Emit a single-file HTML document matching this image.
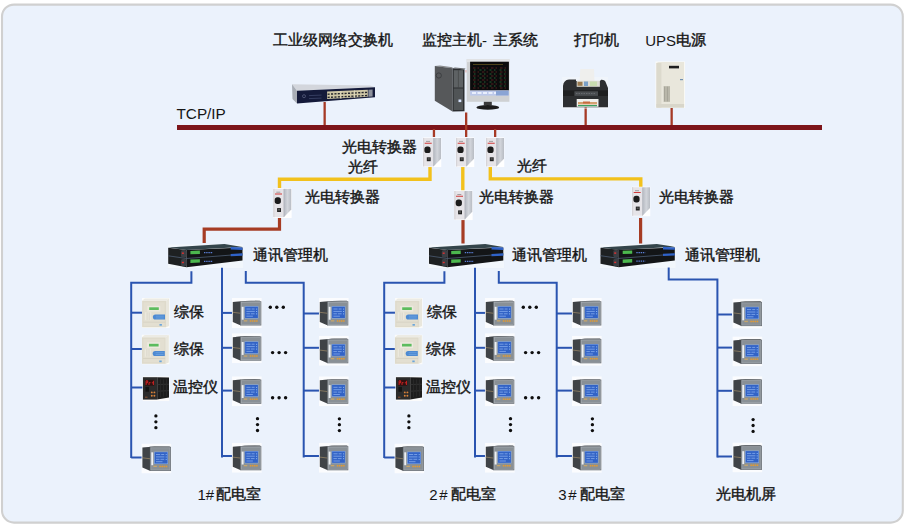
<!DOCTYPE html>
<html><head><meta charset="utf-8"><title>diagram</title>
<style>
html,body{margin:0;padding:0;background:#ffffff;width:905px;height:527px;overflow:hidden}
#wrap{position:relative;width:905px;height:527px}
svg{position:absolute;left:0;top:0}
.t{position:absolute;font-family:"Liberation Sans",sans-serif;font-size:15px;line-height:15px;color:#161616;white-space:nowrap}
.c{font-size:16px;line-height:16px;transform:scaleX(1.25);transform-origin:0 0;-webkit-text-stroke:1.25px #161616}
.cj .c{font-size:15px;line-height:15px;transform:translate(1px,0.4px);-webkit-text-stroke:0.4px #161616;font-weight:normal}
#probe{position:absolute;left:-9999px;top:0;font-family:"Liberation Sans",sans-serif;font-size:100px;line-height:100px;white-space:nowrap}
</style></head><body><div id="wrap">
<svg width="905" height="527" viewBox="0 0 905 527">

<defs>
 <linearGradient id="gSide" x1="0" y1="0" x2="1" y2="0">
  <stop offset="0" stop-color="#b4b8c0"/><stop offset="0.5" stop-color="#d2d5db"/><stop offset="1" stop-color="#b8bcc3"/>
 </linearGradient>
 <linearGradient id="gScr" x1="0" y1="0" x2="1" y2="1">
  <stop offset="0" stop-color="#3f74d8"/><stop offset="1" stop-color="#1f48b0"/>
 </linearGradient>
 <symbol id="meter" viewBox="0 0 30 30" width="30" height="30">
  <rect x="0" y="0" width="30" height="30" fill="#fbfcfe"/>
  <polygon points="1,4 13,2.9 28,2.7 29,3.3 9,3.5 9,27.5 1,24" fill="#3f4347"/>
  <polygon points="1,4 13,2.9 28,2.7 9,3.5" fill="#5c6064"/>
  <path d="M1 14.3L9 15.3" stroke="#a08c6a" stroke-width="0.7"/>
  <rect x="8.5" y="3.3" width="21.1" height="24.2" fill="#6c7278"/>
  <rect x="9.2" y="4" width="19.7" height="22.8" fill="#a4aab0"/>
  <rect x="9.8" y="4.6" width="18.5" height="21.6" fill="#899096"/>
  <rect x="9.9" y="8.8" width="1.9" height="12.9" fill="#eef1f4"/>
  <rect x="12.8" y="8.2" width="13.8" height="12.3" fill="#8aaee6"/>
  <rect x="13.3" y="8.7" width="12.8" height="11.3" fill="#3263c6"/>
  <path d="M14.6 11h4.2M19.8 11h3M14.6 13.4h8.4M14.6 15.8h3.5M19 15.8h3.8M14.6 18.2h6.5" stroke="#86acee" stroke-width="0.8"/>
  <path d="M24.8 10.6v1M24.8 13v1M24.8 15.4v1" stroke="#a8d0ff" stroke-width="0.8"/>
  <rect x="12" y="22.2" width="3.5" height="1.3" fill="#c8a66a"/>
  <path d="M18 22.9h8.2" stroke="#e49a30" stroke-width="1.5" stroke-dasharray="1.5 0.6"/>
 </symbol>
 <symbol id="relay" viewBox="0 0 28 30" width="28" height="30">
  <rect x="0" y="0" width="28" height="30" fill="#fcfcfa"/>
  <polygon points="0.3,2.8 3,0.4 27.2,0.4 24.2,2.8" fill="#ecebe4"/>
  <rect x="0.3" y="2.8" width="23.9" height="26.5" fill="#dedacb"/>
  <polygon points="24.2,2.8 27.2,0.4 27.2,28 24.2,29.3" fill="#e9e7dd"/>
  <rect x="1.8" y="4.3" width="21" height="23.5" fill="#e3dfd1"/>
  <rect x="5.5" y="7.8" width="13" height="5.8" fill="#ece9de"/>
  <rect x="7.4" y="9.3" width="9.6" height="2.7" fill="#5cbc5e"/>
  <rect x="3.2" y="14.2" width="6.3" height="8" fill="#ebe8dd"/>
  <path d="M5.3 14.5v7.5M7.4 14.5v7.5" stroke="#cfcbbd" stroke-width="0.6"/>
  <path d="M13.6 16.5h9.6v5.1h-9.6a2.55 2.55 0 0 1 0-5.1z" fill="#4d8ad2"/>
  <path d="M14 18.2h8M14 20h8" stroke="#7fb0e8" stroke-width="0.5"/>
  <rect x="1.5" y="23.8" width="22" height="0.6" fill="#cfcbbd"/>
  <rect x="17.7" y="26" width="2.4" height="1.7" fill="#6aa6dc"/>
 </symbol>
 <symbol id="temp" viewBox="0 0 27 25" width="27" height="25">
  <rect x="0" y="0" width="27" height="25" fill="#fbfbfb"/>
  <rect x="0.4" y="1" width="14.3" height="22.4" fill="#2b2b2b"/>
  <polygon points="14.7,1 26.5,1.2 26.5,21.3 14.7,23.4" fill="#1d1d1d"/>
  <path d="M14.7 8.3L26.5 8M14.7 15L26.5 14.5" stroke="#3c3c3c" stroke-width="0.7"/>
  <path d="M18 3v18M21 3v17.5M24 3v17" stroke="#2a2a2a" stroke-width="0.8"/>
  <rect x="2.6" y="3.7" width="9.1" height="5.8" fill="#2e1010"/>
  <path d="M3.6 8.8V4.6h1.6v2h-1.6M6.5 8.8V6.5h1.5M9.3 6.6h1.6M10.9 4.6v4.2" fill="none" stroke="#f02828" stroke-width="0.8"/>
  <rect x="2.9" y="10.7" width="3.6" height="4.8" fill="#141414"/>
  <circle cx="9.3" cy="16.2" r="0.95" fill="#d9823a"/><circle cx="11.9" cy="16.2" r="0.95" fill="#d9823a"/>
  <circle cx="9.3" cy="19.6" r="0.95" fill="#d9823a"/><circle cx="11.9" cy="19.6" r="0.95" fill="#d9823a"/>
  <rect x="2.5" y="20.5" width="2.5" height="1" fill="#8a5030"/>
 </symbol>
 <symbol id="conv" viewBox="0 0 19 30" width="19" height="30">
  <rect x="0" y="0" width="19" height="30" fill="#ffffff"/>
  <rect x="0.5" y="0.7" width="10.5" height="28.5" fill="#e6e4e8"/>
  <rect x="0.5" y="0.7" width="1.2" height="28.5" fill="#d6d4d8"/>
  <polygon points="11,0.7 18.5,0.7 18.5,21.5 11,29.2" fill="url(#gSide)"/>
  <path d="M11 1v28" stroke="#a8acb4" stroke-width="0.5"/>
  <path d="M3.5 4.2h4" stroke="#707070" stroke-width="0.6"/>
  <path d="M2.2 6h7" stroke="#d03a3a" stroke-width="1.1"/>
  <rect x="1.9" y="9.3" width="6.2" height="6.6" rx="2.6" fill="#1c1c1c"/>
  <rect x="4.3" y="20.1" width="3.9" height="3.9" fill="#242424"/>
  <rect x="5.2" y="21" width="2" height="1.5" fill="#5a5a5a"/>
 </symbol>
 <symbol id="cm" viewBox="0 0 76 25" width="76" height="25">
  <rect x="0" y="1" width="76" height="24" fill="#fafbfc" opacity="0.5"/>
  <polygon points="0.7,4.3 57,0.8 75,3.6 19,6.8" fill="#34454b"/>
  <polygon points="0.7,4.5 19,6.6 19,24 0.7,20.5" fill="#1e2122"/>
  <polygon points="19,6.6 75,4.3 75,17.3 19,24" fill="#131517"/>
  <path d="M0.7 12.5L19 15.2L75 10.9" fill="none" stroke="#4d5d74" stroke-width="0.8"/>
  <rect x="13.5" y="6.8" width="5.5" height="7.4" rx="1.8" fill="#3a3e44"/>
  <rect x="13.5" y="15.6" width="5.5" height="7.4" rx="1.8" fill="#3a3e44"/>
  <rect x="14.4" y="9.2" width="2" height="1.4" fill="#e03030"/>
  <rect x="14.4" y="18.5" width="2" height="1.4" fill="#e03030"/>
  <polygon points="22.9,7.6 32.4,7.3 32.4,10.6 22.9,10.9" fill="#4cb84e"/>
  <polygon points="22.9,16.3 32.4,15.9 32.4,19.3 22.9,19.7" fill="#4cb84e"/>
  <path d="M36.5 9.4h9M36.5 18h9" stroke="#5a7ed6" stroke-width="1.3" stroke-dasharray="1.4 0.8"/>
  <polygon points="63.2,3.6 75,4.3 75,6.6 63.2,6.2" fill="#2f62c8"/>
  <polygon points="63.2,10.6 75,10 75,12.4 63.2,12.9" fill="#2f62c8"/>
 </symbol>
</defs>
<rect x="2" y="4.6" width="900.8" height="518" rx="12" ry="12" fill="#ebf2fc" stroke="#d0d0d0" stroke-width="2.1"/>
<rect x="177" y="125" width="645" height="5" fill="#7d151a"/>
<rect x="323.5" y="102" width="2.3" height="23" fill="#a63a26"/>
<rect x="465" y="112.5" width="2.3" height="24.5" fill="#a63a26"/>
<rect x="584.5" y="107" width="2.3" height="18" fill="#a63a26"/>
<rect x="670.5" y="107.5" width="2.3" height="17.5" fill="#a63a26"/>
<rect x="432.8" y="129" width="2.3" height="8" fill="#a63a26"/>
<rect x="494" y="129" width="2.3" height="8" fill="#a63a26"/>
<path d="M430 167V179.2H279.5V188" fill="none" stroke="#f2c11c" stroke-width="3.4"/>
<path d="M462.8 167V190.5" fill="none" stroke="#f2c11c" stroke-width="3.4"/>
<path d="M490.3 167V178.9H640.8V187" fill="none" stroke="#f2c11c" stroke-width="3.4"/>
<path d="M279.5 217V229.2H204.2V243" fill="none" stroke="#a63c24" stroke-width="3.2"/>
<path d="M463 219.5V243.5" fill="none" stroke="#a63c24" stroke-width="3.2"/>
<path d="M640.6 218V243.5" fill="none" stroke="#a63c24" stroke-width="3.2"/>
<g>
 <polygon points="292,84.3 370,85.6 375,87.2 297,90.7" fill="#d3d6dc"/>
 <polygon points="292,84.3 297,90.7 297,103.4 292.5,99" fill="#a9aeb6"/>
 <polygon points="297,90.7 375,87.2 375,97.3 297,103.4" fill="#141a3a"/>
 <polygon points="327.1,91.5 367.8,89.8 367.8,96.8 327.1,99" fill="#cfc7a6"/>
 <path d="M327.6 94.2L367.3 92.4M327.6 97.4L367.3 95.5" stroke="#25262c" stroke-width="1.4" stroke-dasharray="2.1 1.3"/>
 <path d="M340.9 91v7.8M354.6 90.4v7.4" stroke="#e2dcc2" stroke-width="0.9"/>
 <polygon points="368.4,89.8 372.6,89.6 372.6,96.5 368.4,96.8" fill="#8d919c"/>
 <circle cx="304" cy="96.2" r="1.5" fill="none" stroke="#6a7090" stroke-width="0.6"/>
 <path d="M309 95.6L321.5 95.1M309 98.6L321.5 98.1" stroke="#4a5478" stroke-width="0.6"/>
</g>
<g>
 <polygon points="434.8,66 440,65.5 452.5,67.2 452.5,68.2" fill="#8a8c8e"/>
 <polygon points="434.8,66 452.5,68.2 452.5,111.5 434.8,100.7" fill="#56585a"/>
 <circle cx="438.8" cy="75.5" r="2.6" fill="none" stroke="#3a3c3e" stroke-width="0.9"/>
 <polygon points="452.5,68.2 455,67.6 465.5,68.5 464.5,69.4" fill="#6a6c6e"/>
 <polygon points="452.5,68.2 464.5,69.4 464.5,111.2 452.5,111.5" fill="#2c2e30"/>
 <rect x="453.7" y="70.2" width="9.3" height="17.3" fill="#5e6264"/>
 <rect x="453.7" y="88.5" width="9.3" height="21.5" fill="#505456"/>
 <path d="M458.4 70.2v17.3" stroke="#3c3e40" stroke-width="0.6"/>
 <rect x="458.5" y="99.5" width="2.8" height="2.6" fill="#d8e4ff"/>
 <rect x="465.2" y="70" width="1.6" height="2.5" fill="#e8c0c0"/>
 <rect x="466.7" y="59.1" width="42.7" height="42.7" fill="#cfd1d3"/>
 <rect x="466.7" y="59.1" width="42.7" height="3" fill="#e2e4e6"/>
 <rect x="470.1" y="61.7" width="38.8" height="28.8" fill="#0b0b0c"/>
 <path d="M473 64.5h30" stroke="#6a5a20" stroke-width="0.7"/>
 <path d="M473 68h34M473 72h34M473 76h34M473 80h34M473 84h34M473 88h34" stroke="#5a2424" stroke-width="0.9" stroke-dasharray="2.5 2 1.5 3"/>
 <path d="M474 70h32M474 74h32M474 78h32M474 82h32M474 86h32" stroke="#2a6a3a" stroke-width="0.9" stroke-dasharray="1.5 4 2 2.5"/>
 <rect x="470.1" y="90.5" width="38.8" height="5.1" fill="#bcc8ea"/>
 <path d="M472 93h24" stroke="#e8eefc" stroke-width="2.2" stroke-dasharray="4 1.5"/>
 <rect x="496" y="90.8" width="12.6" height="4.6" fill="#8aa4d4"/>
 <rect x="483.8" y="101.8" width="8" height="3.6" fill="#3a3a3a"/>
 <ellipse cx="487.8" cy="107.4" rx="11.4" ry="2.4" fill="#1c1c1c"/>
</g>
<g>
 <rect x="562" y="77" width="46" height="32" fill="#f6f8fa" opacity="0.45"/>
 <polygon points="580.3,69 594,69 594.5,81.3 579.5,81.3" fill="#efefed"/>
 <path d="M563 86Q563.5 80 569 79.5L576 79.5L576 81L600 81L601 79.8Q605 79.5 606 83L608 88V107.3H563Z" fill="#2d2f31"/>
 <polygon points="576.7,80.8 599.9,80.8 599.9,86.8 576.7,86.8" fill="#dcdcd4"/>
 <rect x="577.5" y="81.8" width="5" height="4" fill="#9a7a50"/>
 <rect x="584" y="81.5" width="4" height="4.5" fill="#7aa0c8"/>
 <rect x="590" y="81.5" width="7" height="4.5" fill="#c8dcb0"/>
 <rect x="563" y="90.4" width="45" height="5.5" fill="#1e1f20"/>
 <rect x="574.4" y="91.3" width="23.6" height="4.6" fill="#4a4d50"/>
 <path d="M576 93.5h20" stroke="#6e7276" stroke-width="0.8" stroke-dasharray="1.5 1"/>
 <rect x="576.7" y="99" width="21.8" height="7.8" fill="#f0f0ee"/>
 <rect x="578" y="102" width="19" height="2.4" fill="#d4a070"/><rect x="583" y="101.5" width="7" height="2" fill="#c86a40"/>
 <rect x="578" y="105" width="19" height="1.2" fill="#3aa060"/>
</g>
<g>
 <rect x="655.5" y="61.5" width="29.5" height="46.5" fill="#fbfbf7"/>
 <polygon points="656.4,63 658.5,62 684.1,62 684.1,107.6 656.4,107.6" fill="#e9e7dc"/>
 <rect x="656.4" y="63" width="5" height="44.6" fill="#dcdacd"/>
 <rect x="669" y="65.8" width="10" height="2.6" fill="#1e1e1e"/>
 <rect x="663.5" y="86" width="6.5" height="16" fill="#cac8bb"/>
 <path d="M664.5 86.5v15M666 86.5v15M667.5 86.5v15M669 86.5v15" stroke="#9e9c90" stroke-width="0.8"/>
 <rect x="656.4" y="104" width="27.7" height="3.6" fill="#d8d6ca"/>
 <rect x="680" y="79" width="3" height="1.2" fill="#7090b0"/>
</g>
<use href="#conv" x="422.5" y="137.2"/>
<use href="#conv" x="455.5" y="137.2"/>
<use href="#conv" x="485.5" y="137.2"/>
<use href="#conv" x="272.8" y="188"/>
<use href="#conv" x="453.8" y="190.3"/>
<use href="#conv" x="631.5" y="186.5"/>
<use href="#cm" x="167.5" y="243.3"/>
<use href="#cm" x="428.3" y="243.3"/>
<use href="#cm" x="599.8" y="243.2"/>
<g transform="translate(0 0)"><path d="M191.4 271.3V282.8H131.2V458" fill="none" stroke="#2a54b0" stroke-width="2"/>
<path d="M131.2 312.7H142.5" stroke="#2a54b0" stroke-width="2"/>
<path d="M131.2 349H142.5" stroke="#2a54b0" stroke-width="2"/>
<path d="M131.2 387.5H142.5" stroke="#2a54b0" stroke-width="2"/>
<path d="M131.2 457.5H142.5" stroke="#2a54b0" stroke-width="2"/>
<use href="#relay" x="141.8" y="298"/>
<use href="#relay" x="141.6" y="334.5"/>
<use href="#temp" x="142.5" y="376.2"/>
<use href="#meter" x="141.4" y="443.5"/>
<circle cx="155.9" cy="415.90" r="1.65" fill="#0e0e0e"/><circle cx="155.9" cy="421.80" r="1.65" fill="#0e0e0e"/><circle cx="155.9" cy="427.70" r="1.65" fill="#0e0e0e"/>
<path d="M222 267.7V457.5" fill="none" stroke="#2a54b0" stroke-width="2"/>
<path d="M222 312.9H232" stroke="#2a54b0" stroke-width="2"/>
<path d="M222 347.8H232" stroke="#2a54b0" stroke-width="2"/>
<path d="M222 390.6H232" stroke="#2a54b0" stroke-width="2"/>
<path d="M222 456H232" stroke="#2a54b0" stroke-width="2"/>
<use href="#meter" x="231.8" y="298"/>
<use href="#meter" x="231.8" y="333.2"/>
<use href="#meter" x="231.8" y="376.3"/>
<use href="#meter" x="231.8" y="442.8"/>
<circle cx="257.5" cy="418.70" r="1.65" fill="#0e0e0e"/><circle cx="257.5" cy="424.60" r="1.65" fill="#0e0e0e"/><circle cx="257.5" cy="430.50" r="1.65" fill="#0e0e0e"/>
<circle cx="270.30" cy="307.2" r="1.7" fill="#0e0e0e"/><circle cx="276.80" cy="307.2" r="1.7" fill="#0e0e0e"/><circle cx="283.30" cy="307.2" r="1.7" fill="#0e0e0e"/>
<circle cx="272.60" cy="352.6" r="1.7" fill="#0e0e0e"/><circle cx="279.10" cy="352.6" r="1.7" fill="#0e0e0e"/><circle cx="285.60" cy="352.6" r="1.7" fill="#0e0e0e"/>
<circle cx="272.60" cy="397.8" r="1.7" fill="#0e0e0e"/><circle cx="279.10" cy="397.8" r="1.7" fill="#0e0e0e"/><circle cx="285.60" cy="397.8" r="1.7" fill="#0e0e0e"/>
<path d="M245.8 271V282.7H303.7V457.5" fill="none" stroke="#2a54b0" stroke-width="2"/>
<path d="M303.7 313.5H319" stroke="#2a54b0" stroke-width="2"/>
<path d="M303.7 347.8H319" stroke="#2a54b0" stroke-width="2"/>
<path d="M303.7 390.6H319" stroke="#2a54b0" stroke-width="2"/>
<path d="M303.7 456H319" stroke="#2a54b0" stroke-width="2"/>
<use href="#meter" x="318.8" y="298"/>
<use href="#meter" x="318.8" y="335.8"/>
<use href="#meter" x="318.8" y="376.3"/>
<use href="#meter" x="318.8" y="442.8"/>
<circle cx="339.4" cy="418.80" r="1.65" fill="#0e0e0e"/><circle cx="339.4" cy="424.70" r="1.65" fill="#0e0e0e"/><circle cx="339.4" cy="430.60" r="1.65" fill="#0e0e0e"/></g>
<g transform="translate(253 0)"><path d="M191.4 271.3V282.8H131.2V458" fill="none" stroke="#2a54b0" stroke-width="2"/>
<path d="M131.2 312.7H142.5" stroke="#2a54b0" stroke-width="2"/>
<path d="M131.2 349H142.5" stroke="#2a54b0" stroke-width="2"/>
<path d="M131.2 387.5H142.5" stroke="#2a54b0" stroke-width="2"/>
<path d="M131.2 457.5H142.5" stroke="#2a54b0" stroke-width="2"/>
<use href="#relay" x="141.8" y="298"/>
<use href="#relay" x="141.6" y="334.5"/>
<use href="#temp" x="142.5" y="376.2"/>
<use href="#meter" x="141.4" y="443.5"/>
<circle cx="155.9" cy="415.90" r="1.65" fill="#0e0e0e"/><circle cx="155.9" cy="421.80" r="1.65" fill="#0e0e0e"/><circle cx="155.9" cy="427.70" r="1.65" fill="#0e0e0e"/>
<path d="M222 267.7V457.5" fill="none" stroke="#2a54b0" stroke-width="2"/>
<path d="M222 312.9H232" stroke="#2a54b0" stroke-width="2"/>
<path d="M222 347.8H232" stroke="#2a54b0" stroke-width="2"/>
<path d="M222 390.6H232" stroke="#2a54b0" stroke-width="2"/>
<path d="M222 456H232" stroke="#2a54b0" stroke-width="2"/>
<use href="#meter" x="231.8" y="298"/>
<use href="#meter" x="231.8" y="333.2"/>
<use href="#meter" x="231.8" y="376.3"/>
<use href="#meter" x="231.8" y="442.8"/>
<circle cx="257.5" cy="418.70" r="1.65" fill="#0e0e0e"/><circle cx="257.5" cy="424.60" r="1.65" fill="#0e0e0e"/><circle cx="257.5" cy="430.50" r="1.65" fill="#0e0e0e"/>
<circle cx="270.30" cy="307.2" r="1.7" fill="#0e0e0e"/><circle cx="276.80" cy="307.2" r="1.7" fill="#0e0e0e"/><circle cx="283.30" cy="307.2" r="1.7" fill="#0e0e0e"/>
<circle cx="272.60" cy="352.6" r="1.7" fill="#0e0e0e"/><circle cx="279.10" cy="352.6" r="1.7" fill="#0e0e0e"/><circle cx="285.60" cy="352.6" r="1.7" fill="#0e0e0e"/>
<circle cx="272.60" cy="397.8" r="1.7" fill="#0e0e0e"/><circle cx="279.10" cy="397.8" r="1.7" fill="#0e0e0e"/><circle cx="285.60" cy="397.8" r="1.7" fill="#0e0e0e"/>
<path d="M245.8 271V282.7H303.7V457.5" fill="none" stroke="#2a54b0" stroke-width="2"/>
<path d="M303.7 313.5H319" stroke="#2a54b0" stroke-width="2"/>
<path d="M303.7 347.8H319" stroke="#2a54b0" stroke-width="2"/>
<path d="M303.7 390.6H319" stroke="#2a54b0" stroke-width="2"/>
<path d="M303.7 456H319" stroke="#2a54b0" stroke-width="2"/>
<use href="#meter" x="318.8" y="298"/>
<use href="#meter" x="318.8" y="335.8"/>
<use href="#meter" x="318.8" y="376.3"/>
<use href="#meter" x="318.8" y="442.8"/>
<circle cx="339.4" cy="418.80" r="1.65" fill="#0e0e0e"/><circle cx="339.4" cy="424.70" r="1.65" fill="#0e0e0e"/><circle cx="339.4" cy="430.60" r="1.65" fill="#0e0e0e"/></g>
<path d="M668.7 267.5V279.5H717.4V457.4" fill="none" stroke="#2a54b0" stroke-width="2"/>
<path d="M717.4 314.5H732" stroke="#2a54b0" stroke-width="2"/>
<path d="M717.4 347.6H732" stroke="#2a54b0" stroke-width="2"/>
<path d="M717.4 390.8H732" stroke="#2a54b0" stroke-width="2"/>
<path d="M717.4 456.5H732" stroke="#2a54b0" stroke-width="2"/>
<use href="#meter" x="732.4" y="298.6"/>
<use href="#meter" x="732.4" y="336.4"/>
<use href="#meter" x="732.4" y="376.2"/>
<use href="#meter" x="732.4" y="442.4"/>
<circle cx="753.1" cy="419.60" r="1.65" fill="#0e0e0e"/><circle cx="753.1" cy="425.50" r="1.65" fill="#0e0e0e"/><circle cx="753.1" cy="431.40" r="1.65" fill="#0e0e0e"/>
</svg>
<div class="t c" style="left:271.6px;top:31.7px;width:96px">工业级网络交换机</div>
<div class="t c" style="left:420.9px;top:31.7px;width:48px">监控主机</div>
<div class="t c" style="left:491.7px;top:31.7px;width:36px">主系统</div>
<div class="t c" style="left:572.9px;top:31.6px;width:36px">打印机</div>
<div class="t c" style="left:674.7px;top:31.6px;width:24px">电源</div>
<div class="t c" style="left:341.4px;top:138.8px;width:60px">光电转换器</div>
<div class="t c" style="left:346.9px;top:158.7px;width:24px">光纤</div>
<div class="t c" style="left:515.7px;top:157.8px;width:24px">光纤</div>
<div class="t c" style="left:303.6px;top:188.7px;width:60px">光电转换器</div>
<div class="t c" style="left:477.8px;top:188.7px;width:60px">光电转换器</div>
<div class="t c" style="left:657.9px;top:188.7px;width:60px">光电转换器</div>
<div class="t c" style="left:251.9px;top:246.8px;width:60px">通讯管理机</div>
<div class="t c" style="left:510.8px;top:246.8px;width:60px">通讯管理机</div>
<div class="t c" style="left:683.5px;top:246.7px;width:60px">通讯管理机</div>
<div class="t c" style="left:172.7px;top:304.0px;width:24px">综保</div>
<div class="t c" style="left:172.5px;top:341.0px;width:24px">综保</div>
<div class="t c" style="left:171.7px;top:379.3px;width:36px">温控仪</div>
<div class="t c" style="left:425.5px;top:304.0px;width:24px">综保</div>
<div class="t c" style="left:425.3px;top:341.0px;width:24px">综保</div>
<div class="t c" style="left:424.5px;top:379.3px;width:36px">温控仪</div>
<div class="t c" style="left:214.8px;top:486.2px;width:36px">配电室</div>
<div class="t c" style="left:450.3px;top:486.1px;width:36px">配电室</div>
<div class="t c" style="left:579.4px;top:486.1px;width:36px">配电室</div>
<div class="t c" style="left:714.5px;top:486.0px;width:48px">光电机屏</div>
<div class="t" style="left:645.2px;top:32.5px">UPS</div>
<div class="t" style="left:482.0px;top:32.5px">-</div>
<div class="t" style="left:176.5px;top:106.0px;font-size:15.3px">TCP/IP</div>
<div class="t" style="left:197.5px;top:487.3px">1#</div>
<div class="t" style="left:429.2px;top:487.1px;letter-spacing:1.6px">2#</div>
<div class="t" style="left:558.3px;top:487.1px;letter-spacing:1.6px">3#</div>
</div>
<span id="probe">工工</span>
<script>
(function(){var p=document.getElementById('probe');if(p&&p.getBoundingClientRect().width>176){document.getElementById('wrap').className='cj';}})();
</script>
</body></html>
